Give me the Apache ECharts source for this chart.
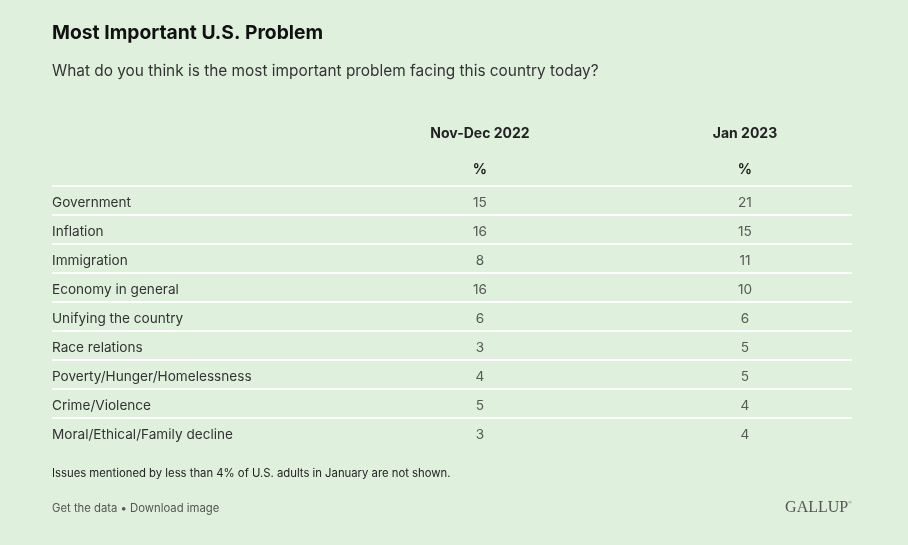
<!DOCTYPE html>
<html>
<head>
<meta charset="utf-8">
<script src="https://cdn.jsdelivr.net/npm/echarts@6/dist/echarts.min.js"></script>
<style>
  html, body { margin: 0; padding: 0; background: #dff0dd; }
  #chart { width: 908px; height: 545px; }
</style>
</head>
<body>
<div id="chart"></div>
<script>
// table data
var issues = ['Government', 'Inflation', 'Immigration', 'Economy in general', 'Unifying the country',
    'Race relations', 'Poverty/Hunger/Homelessness', 'Crime/Violence', 'Moral/Ethical/Family decline'];
var periods = ['Nov-Dec 2022', 'Jan 2023'];
var novDec2022 = [15, 16, 8, 16, 6, 3, 4, 5, 3];
var jan2023 = [21, 15, 11, 10, 6, 5, 5, 4, 4];

var font = 'Inter, "Noto Sans", sans-serif';

// [column, row, value] triples for the scatter "cells"
function cells(values, col) {
    var out = [];
    for (var i = 0; i < values.length; i++) out.push([col, i, values[i]]);
    return out;
}

var chart = echarts.init(document.getElementById('chart'));
var option = {
    backgroundColor: '#dff0dd',
    animation: false,
    title: [
        {
            text: 'Most Important U.S. Problem', left: 52, top: 24, padding: 0,
            textStyle: { fontFamily: font, fontSize: 19.3, fontWeight: 'bold', color: '#111' }
        },
        {
            text: 'What do you think is the most important problem facing this country today?', left: 52, top: 64, padding: 0,
            textStyle: { fontFamily: font, fontSize: 15.4, fontWeight: 'normal', color: '#333' }
        },
        {
            text: 'Issues mentioned by less than 4% of U.S. adults in January are not shown.', left: 52, top: 468, padding: 0,
            textStyle: { fontFamily: font, fontSize: 11.3, fontWeight: 'normal', color: '#222' }
        },
        {
            text: 'Get the data \u2022 Download image', left: 52, top: 503, padding: 0,
            textStyle: { fontFamily: font, fontSize: 11.3, fontWeight: 'normal', color: '#555' }
        },
        {
            text: 'GALLUP{r|\u00ae}', right: 56, top: 500, padding: 0,
            textStyle: {
                fontFamily: '"Liberation Serif", "DejaVu Serif", serif', fontSize: 16, fontWeight: 'normal', color: '#555',
                rich: { r: { fontSize: 5, verticalAlign: 'top', color: '#555', padding: [0, 0, 8, 0] } }
            }
        }
    ],
    grid: { left: 52, right: 56, top: 186, bottom: 98 },
    xAxis: {
        type: 'value', position: 'top', min: -0.615, max: 2.404,
        axisLine: { show: false }, axisTick: { show: false }, splitLine: { show: false },
        axisLabel: {
            show: true, margin: -2, customValues: [1, 2],
            formatter: function (v) { return '{h|' + periods[Math.round(v) - 1] + '}\n{p|%}'; },
            rich: {
                h: { fontFamily: font, fontSize: 14, fontWeight: 'bold', color: '#222', lineHeight: 36 },
                p: { fontFamily: font, fontSize: 14, fontWeight: 'bold', color: '#222', lineHeight: 36 }
            }
        }
    },
    yAxis: {
        type: 'category', inverse: true, data: issues,
        axisLine: { show: false }, axisTick: { show: false },
        axisLabel: {
            align: 'left', margin: 0,
            formatter: function (v) { return '{t|' + v + '}'; },
            rich: { t: { fontFamily: font, fontSize: 13.6, color: '#333', padding: [4, 0, 0, 0] } }
        },
        splitLine: { show: true, showMaxLine: false, lineStyle: { color: '#ffffff', width: 2 } }
    },
    series: [novDec2022, jan2023].map(function (vals, k) {
        return {
            type: 'scatter', name: periods[k], symbolSize: 1,
            itemStyle: { color: 'rgba(0,0,0,0)' },
            label: {
                show: true, position: 'inside', offset: [0, 2], fontFamily: font, fontSize: 13.6, color: '#333',
                formatter: function (p) { return p.value[2]; }
            },
            data: cells(vals, k + 1)
        };
    })
};
chart.setOption(option);
</script>
</body>
</html>
